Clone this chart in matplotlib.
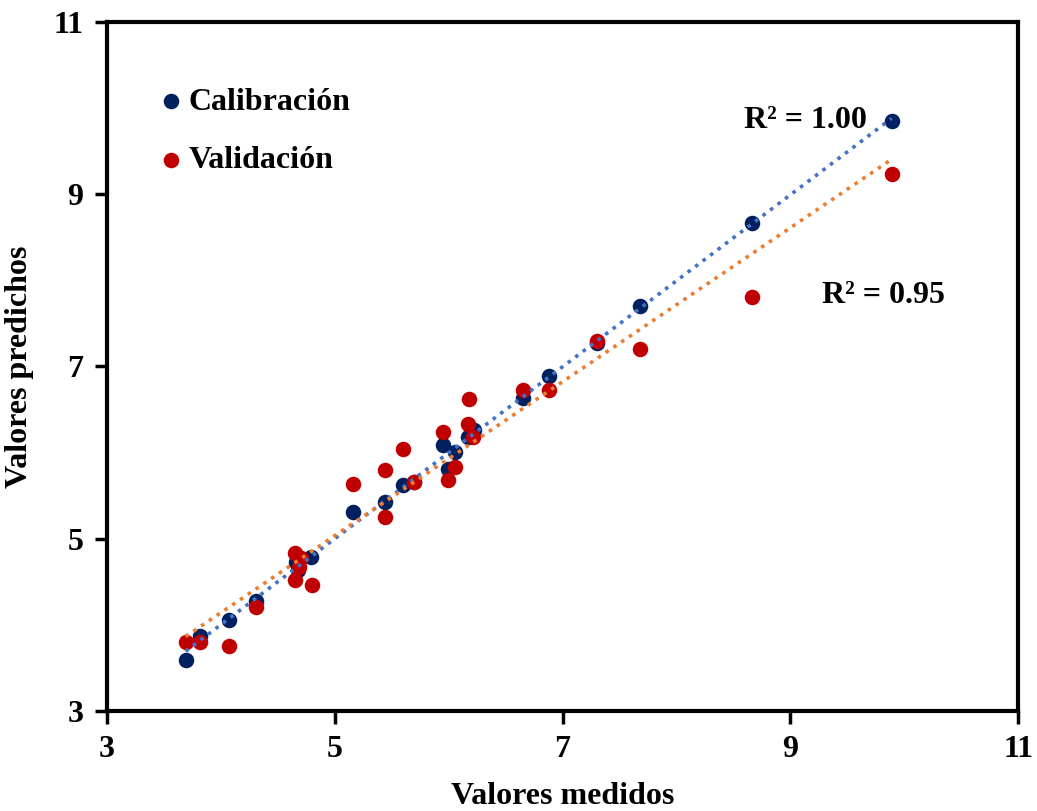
import matplotlib
matplotlib.use('Agg')
import matplotlib.pyplot as plt
import numpy as np

# calibration points (measured vs predicted)
cal_x = [3.69, 3.82, 4.07, 4.31, 4.66, 4.68, 4.79, 5.16, 5.44, 5.60, 5.70,
         5.95, 5.99, 6.06, 6.17, 6.22, 6.65, 6.88, 7.30, 7.68, 8.66, 9.89]
cal_y = [3.59, 3.87, 4.06, 4.28, 4.73, 4.64, 4.79, 5.31, 5.43, 5.62, 5.66,
         6.09, 5.81, 6.01, 6.18, 6.26, 6.63, 6.89, 7.27, 7.70, 8.67, 9.85]

# validation points
val_x = [3.69, 3.82, 4.07, 4.31, 4.65, 4.70, 4.69, 4.65, 4.80, 5.16, 5.44,
         5.44, 5.60, 5.70, 5.95, 5.99, 6.06, 6.18, 6.17, 6.21, 6.65, 6.88,
         7.30, 7.68, 8.66, 9.89]
val_y = [3.80, 3.80, 3.75, 4.21, 4.83, 4.78, 4.67, 4.52, 4.46, 5.64, 5.80,
         5.25, 6.04, 5.66, 6.24, 5.68, 5.83, 6.62, 6.33, 6.18, 6.73, 6.73,
         7.30, 7.20, 7.81, 9.24]

ticks = [3, 5, 7, 9, 11]
r2_cal = '1.00'
r2_val = '0.95'

plt.rcParams['font.family'] = ['Liberation Serif', 'DejaVu Serif']
plt.rcParams['font.weight'] = 'bold'
fs = 23

fig = plt.figure(figsize=(10.37, 8.11), dpi=100)
ax = fig.add_axes([0.1032, 0.1233, 0.8785, 0.8496])

navy = '#002060'
red = '#C00000'

ax.scatter(cal_x, cal_y, s=125, color=navy, zorder=2, label='Calibración', linewidths=0)
ax.scatter(val_x, val_y, s=125, color=red, zorder=3, label='Validación', linewidths=0)

# linear trend lines
for xs, ys, col in [(cal_x, cal_y, '#4472C4'), (val_x, val_y, '#ED7D31')]:
    xs = np.array(xs)
    m, b = np.polyfit(xs, ys, 1)
    xl = np.array([xs.min(), xs.max()])
    ax.plot(xl, m * xl + b, color=col, linestyle=(0, (1, 1.6)), linewidth=2.6, zorder=4)

ax.text(9.67, 9.86, f'R² = {r2_cal}', fontsize=fs, fontweight='bold', ha='right', va='center')
ax.text(9.28, 7.83, f'R² = {r2_val}', fontsize=fs, fontweight='bold', ha='left', va='center')

ax.set_xlim(3, 11)
ax.set_ylim(3, 11)
ax.set_xticks(ticks)
ax.set_yticks(ticks)
ax.tick_params(labelsize=fs, width=2.5, length=9, direction='out', pad=8)
for sp in ax.spines.values():
    sp.set_linewidth(3)

ax.set_xlabel('Valores medidos', fontsize=fs, fontweight='bold', labelpad=13)
ax.set_ylabel('Valores predichos', fontsize=fs, fontweight='bold', labelpad=14)

leg = ax.legend(loc='upper left', bbox_to_anchor=(0.058, 0.905), frameon=False,
                handlelength=0.7, handletextpad=0.2, labelspacing=0.9,
                borderpad=0, borderaxespad=0, markerscale=1.0,
                prop={'size': fs, 'weight': 'bold'})

fig.savefig('out.png', dpi=100)
